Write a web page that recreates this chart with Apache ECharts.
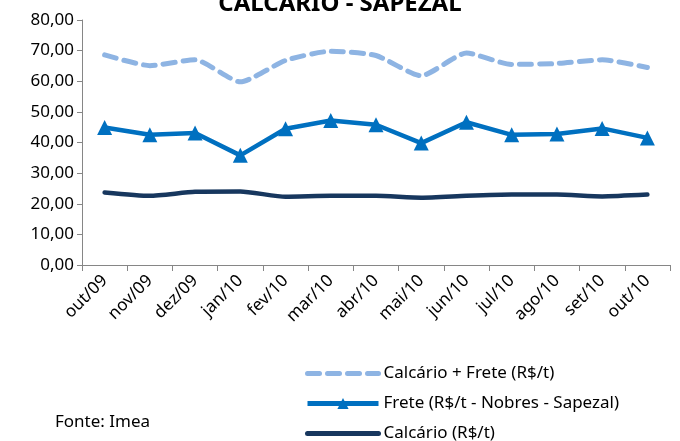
<!DOCTYPE html>
<html><head><meta charset="utf-8">
<script src="https://cdn.jsdelivr.net/npm/echarts@6/dist/echarts.min.js"></script>
<style>html,body{margin:0;padding:0;background:#fff}#c{width:680px;height:441px}</style>
</head><body><div id="c"></div>
<script>
const categories = ['out/09','nov/09','dez/09','jan/10','fev/10','mar/10','abr/10','mai/10','jun/10','jul/10','ago/10','set/10','out/10'];
const calcarioFrete = [68.6, 65.1, 67.0, 59.8, 66.8, 69.8, 68.4, 61.8, 69.2, 65.5, 65.8, 67.0, 64.5];
const frete = [44.9, 42.5, 43.1, 35.8, 44.5, 47.2, 45.8, 39.8, 46.6, 42.5, 42.8, 44.6, 41.5];
const calcario = [23.7, 22.6, 23.9, 24.0, 22.3, 22.6, 22.6, 22.0, 22.6, 23.0, 23.0, 22.4, 23.0];
const yTicks = {min: 0, max: 80, interval: 10};
const FONT = 'Noto Sans';

const chart = echarts.init(document.getElementById('c'));
chart.setOption({
  animation: false,
  textStyle: {fontFamily: FONT},
  title: {text: 'CALCÁRIO - SAPEZAL', left: 'center', top: -13,
    textStyle: {fontFamily: FONT, fontWeight: 'bold', fontSize: 24, color: '#000'}},
  graphic: [{type: 'text', left: 55, top: 414, style: {text: 'Fonte: Imea', font: '17px "Noto Sans"', fill: '#000'}}],
  grid: {left: 82, right: 10, top: 20, bottom: 176},
  legend: {orient: 'vertical', left: 300, top: 360, height: 110, itemWidth: 71, itemHeight: 14, itemGap: 13,
    textStyle: {fontFamily: FONT, fontSize: 17, color: '#000'},
    data: [
      {name: 'Calcário + Frete (R$/t)', itemStyle: {opacity: 0}, lineStyle: {width: 5}},
      {name: 'Frete (R$/t - Nobres - Sapezal)', lineStyle: {width: 5}},
      {name: 'Calcário (R$/t)', itemStyle: {opacity: 0}, lineStyle: {width: 5}}
    ]},
  xAxis: {type: 'category', data: categories, boundaryGap: true,
    axisLine: {lineStyle: {color: '#868686', width: 1}},
    axisTick: {show: true, length: 6, lineStyle: {color: '#868686'}},
    axisLabel: {rotate: 45, fontSize: 17, color: '#000', margin: 13}},
  yAxis: {type: 'value', min: yTicks.min, max: yTicks.max, interval: yTicks.interval,
    axisLine: {show: true, lineStyle: {color: '#868686'}},
    axisTick: {show: true, inside: false, length: 5, lineStyle: {color: '#868686'}},
    splitLine: {show: false},
    axisLabel: {fontSize: 17, color: '#000', margin: 8,
      formatter: v => v.toFixed(2).replace('.', ',')}},
  series: [
    {name: 'Calcário + Frete (R$/t)', type: 'line', data: calcarioFrete, symbol: 'none', smooth: 0.2,
      lineStyle: {color: '#8EB4E3', width: 5, type: [12, 8], cap: 'round'}, itemStyle: {color: '#8EB4E3'}},
    {name: 'Frete (R$/t - Nobres - Sapezal)', type: 'line', data: frete, symbol: 'triangle', symbolSize: 15,
      lineStyle: {color: '#0070C0', width: 4.5}, itemStyle: {color: '#0070C0'}},
    {name: 'Calcário (R$/t)', type: 'line', data: calcario, symbol: 'none', smooth: 0.2,
      lineStyle: {color: '#17375E', width: 4.5, cap: 'round'}, itemStyle: {color: '#17375E'}}
  ]
});
</script></body></html>
